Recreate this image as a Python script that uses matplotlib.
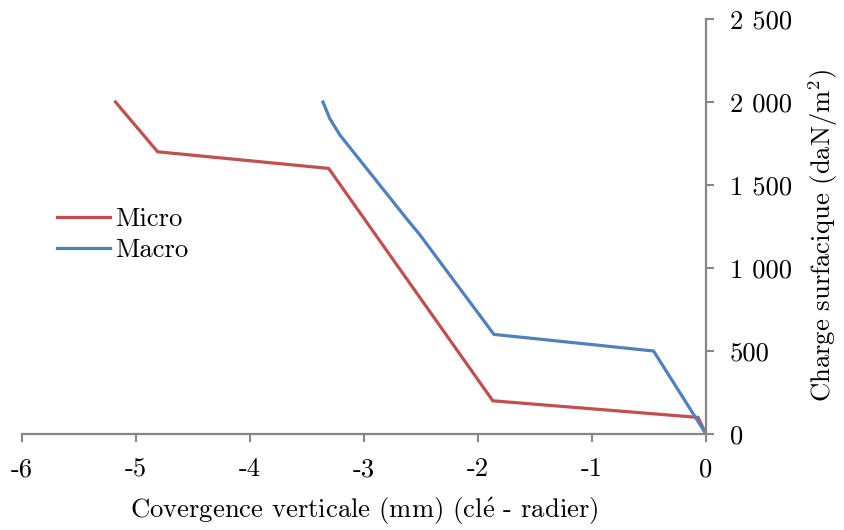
import matplotlib
matplotlib.use("Agg")
import matplotlib.pyplot as plt

plt.rcParams['font.family'] = ['cmr10', 'DejaVu Serif']
plt.rcParams['mathtext.fontset'] = 'cm'
plt.rcParams['axes.unicode_minus'] = False
plt.rcParams['axes.formatter.use_mathtext'] = True

micro_x = [-5.18, -4.81, -3.31, -1.87, -0.07, 0.0]
micro_y = [2000, 1700, 1600, 200, 100, 0]
macro_x = [-3.36, -3.30, -3.21, -2.63, -2.51, -1.86, -0.46, 0.0]
macro_y = [2000, 1900, 1800, 1300, 1200, 600, 500, 0]

x_ticks = [-6, -5, -4, -3, -2, -1, 0]
x_tick_labels = ['-6', '-5', '-4', '-3', '-2', '-1', '0']
y_ticks = [0, 500, 1000, 1500, 2000, 2500]
y_tick_labels = ['0', '500', '1 000', '1 500', '2 000', '2 500']

red = '#C0504D'
blue = '#4F81BD'
gray = '#868686'
fs = 19.2

fig = plt.figure(figsize=(8.45, 5.3), dpi=100)
ax = fig.add_axes([22/845, 1-434/530, (706-22)/845, (434-19)/530])

ax.plot(micro_x, micro_y, color=red, lw=2.3, label='Micro', solid_joinstyle='miter')
ax.plot(macro_x, macro_y, color=blue, lw=2.3, label='Macro', solid_joinstyle='miter')

ax.set_xlim(-6, 0)
ax.set_ylim(0, 2500)
ax.set_xticks(x_ticks)
ax.set_xticklabels(x_tick_labels)
ax.set_yticks(y_ticks)
ax.set_yticklabels(y_tick_labels)

for s in ['top', 'left']:
    ax.spines[s].set_visible(False)
for s in ['bottom', 'right']:
    ax.spines[s].set_color(gray)
    ax.spines[s].set_linewidth(1.6)

ax.yaxis.tick_right()
ax.yaxis.set_label_position('right')
ax.tick_params(axis='both', colors=gray, labelcolor='black', labelsize=fs,
               direction='out', length=6, width=1.5)
ax.tick_params(axis='x', pad=11)
ax.tick_params(axis='y', pad=11)

ax.set_xlabel('Covergence verticale (mm) (cl$\\acute{\\rm e}$ - radier)', fontsize=fs, labelpad=10)
ax.set_ylabel('Charge surfacique (daN/m$^2$)', fontsize=fs, rotation=90)
ax.yaxis.set_label_coords(1.147, 0.48)

ax.legend(loc='center left', bbox_to_anchor=(0.035, 0.48), frameon=False,
          fontsize=fs, handlelength=2.0, handletextpad=0.2, labelspacing=0.25,
          borderaxespad=0)

fig.savefig('out.png', dpi=100)
